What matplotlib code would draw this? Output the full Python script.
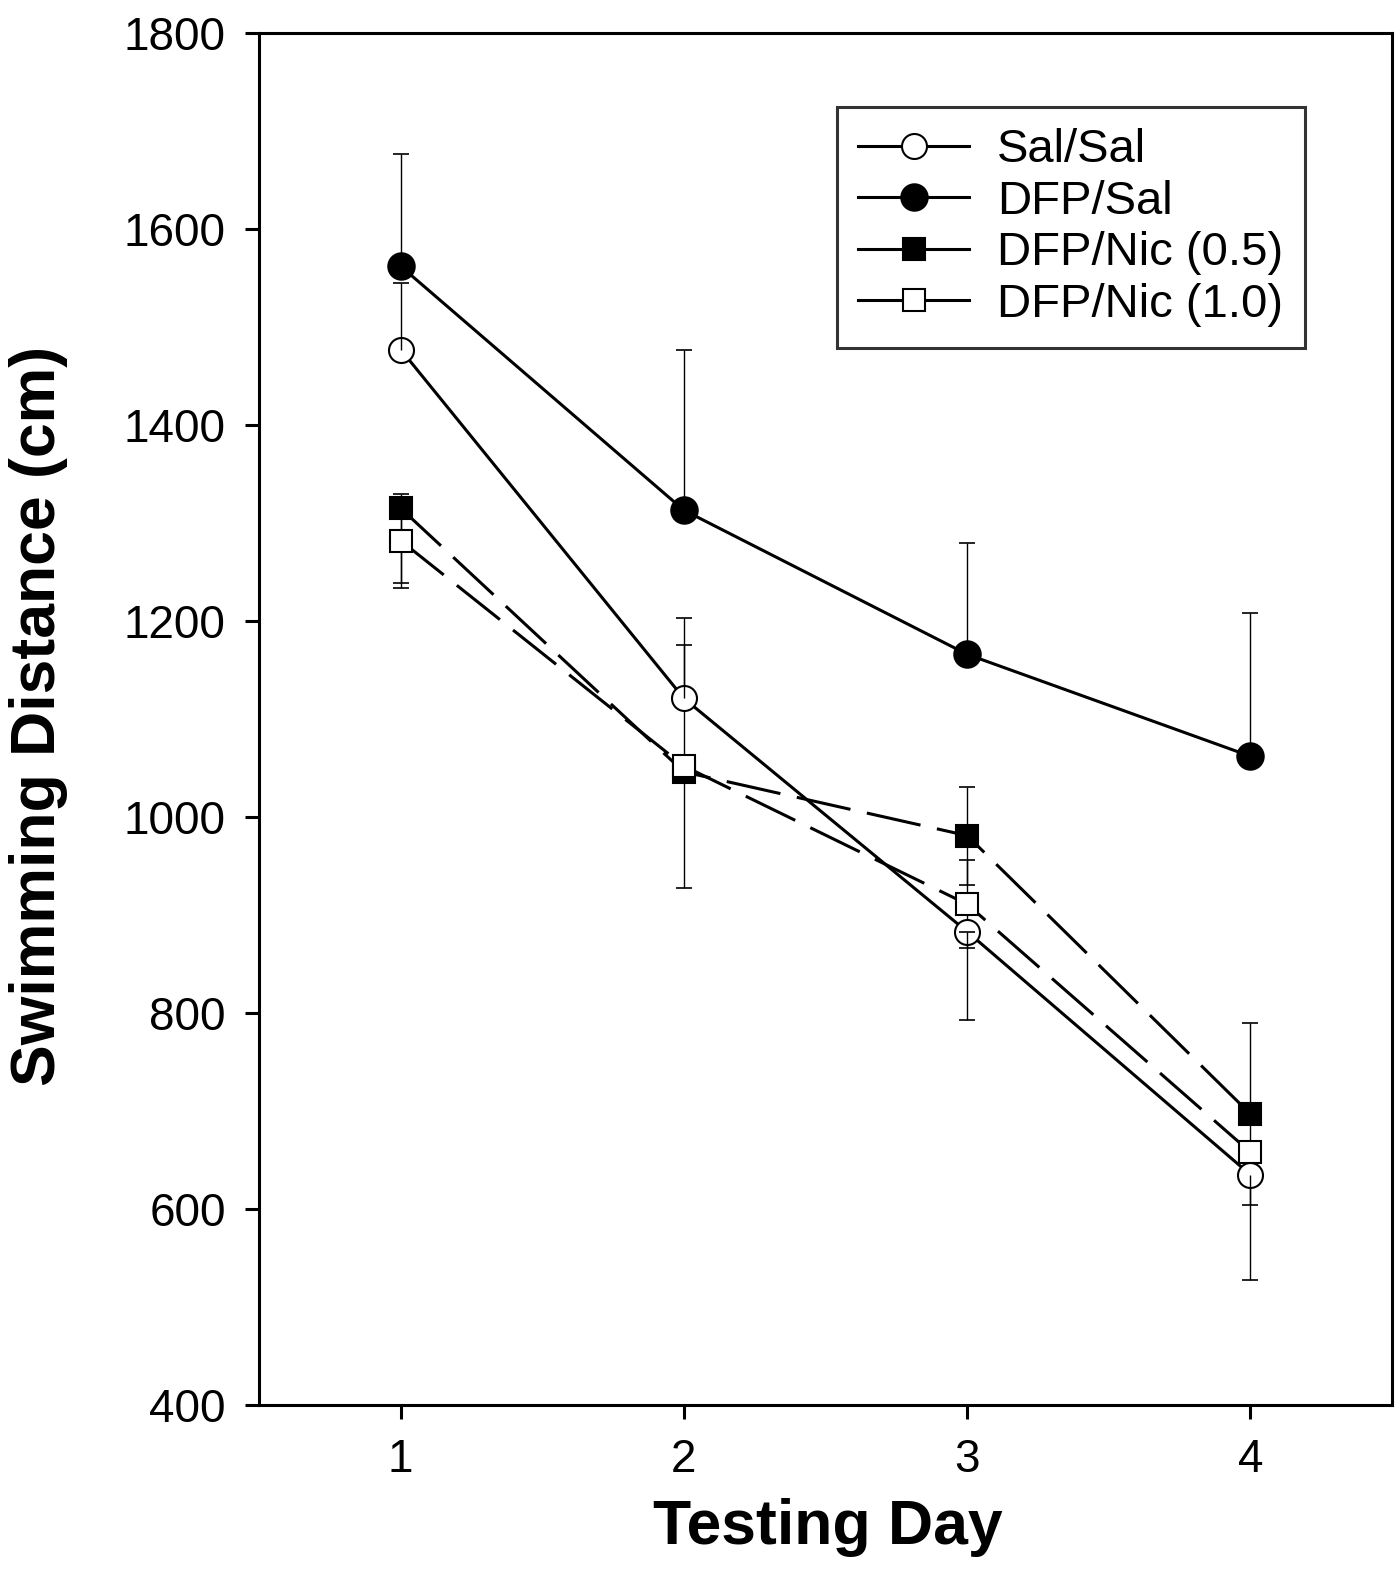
import matplotlib
matplotlib.use('Agg')
import matplotlib.pyplot as plt
from matplotlib.lines import Line2D
import numpy as np

plt.rcParams['font.family'] = ['Liberation Sans', 'DejaVu Sans']

days = [1, 2, 3, 4]
labels = ['Sal/Sal', 'DFP/Sal', 'DFP/Nic (0.5)', 'DFP/Nic (1.0)']

# means (cm)
sal_sal = [1477, 1121, 883, 635]
dfp_sal = [1562, 1313, 1166, 1062]
nic_05 = [1315, 1046, 981, 697]
nic_10 = [1282, 1052, 911, 658]

# error bars (only the sides that are drawn; nan = not shown)
sal_sal_up = [68, 82, 0, np.nan]
sal_sal_down = [np.nan, np.nan, 90, 107]
dfp_sal_up = [114, 163, 114, 146]
dfp_sal_down = [np.nan, np.nan, np.nan, np.nan]
nic_05_up = [np.nan, np.nan, 50, 93]
nic_05_down = [76, np.nan, 50, 93]
nic_10_up = [48, 124, 45, np.nan]
nic_10_down = [48, 124, 45, np.nan]

fig = plt.figure(figsize=(13.98, 15.70), dpi=100)
ax = fig.add_axes([0.1853, 0.1051, 0.8104, 0.8739])

lw = 2.2
cap = 0.028


def bars(x, y, up, down, z):
    for xi, yi, u, d in zip(x, y, up, down):
        for e, s in ((u, 1), (d, -1)):
            if np.isnan(e):
                continue
            end = yi + s * e
            ax.vlines(xi, yi, end, color='k', lw=1.0, zorder=z)
            ax.hlines(end, xi - cap, xi + cap, color='k', lw=1.2, zorder=z)


series = [
    (sal_sal, sal_sal_up, sal_sal_down, 'o', 'white', 18, '-', 3.6),
    (dfp_sal, dfp_sal_up, dfp_sal_down, 'o', 'black', 19, '-', 2),
    (nic_05, nic_05_up, nic_05_down, 's', 'black', 16, '--', 2),
    (nic_10, nic_10_up, nic_10_down, 's', 'white', 16, '--', 2),
]

handles = []
for (y, up, down, m, fc, ms, ls, ez), lab in zip(series, labels):
    bars(days, y, up, down, ez)
    line, = ax.plot(days, y, color='k', lw=lw, ls=ls, zorder=2.5)
    if ls == '--':
        line.set_dashes((18, 5.5))
    ax.plot(days, y, ls='none', marker=m, ms=ms, mfc=fc, mec='k', mew=1.5, zorder=3)
    handles.append(Line2D([], [], color='k', lw=lw, marker=m, ms=ms, mfc=fc,
                          mec='k', mew=1.5, label=lab))

ax.set_xlim(0.5, 4.5)
ax.set_ylim(400, 1800)
ax.set_xticks(days)
ax.set_yticks(np.arange(400, 1801, 200))

for s in ax.spines.values():
    s.set_linewidth(2.2)
ax.tick_params(direction='out', length=10, width=2.2, labelsize=33, pad=14,
               top=False, right=False)

ax.set_xlabel('Testing Day', fontsize=45, fontweight='bold')
ax.set_ylabel('Swimming Distance (cm)', fontsize=45, fontweight='bold')
ax.xaxis.set_label_coords(0.502, -0.068)
ax.yaxis.set_label_coords(-0.169, 0.502)

leg = ax.legend(handles=handles, loc='upper right', bbox_to_anchor=(0.923, 0.946),
                borderaxespad=0, fontsize=34, frameon=True, fancybox=False,
                handlelength=2.35, handletextpad=0.6, labelspacing=0.16,
                borderpad=0.45)
leg.get_frame().set_edgecolor('black')
leg.get_frame().set_linewidth(2.2)

fig.savefig('out.png', dpi=100)
